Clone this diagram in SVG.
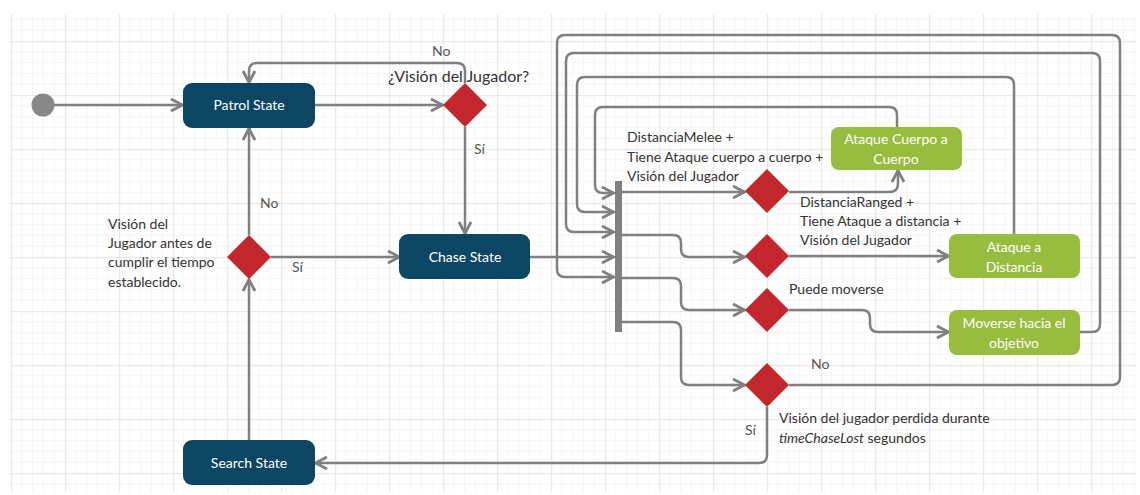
<svg xmlns="http://www.w3.org/2000/svg" width="1140" height="495" viewBox="0 0 1140 495">
<style>
text{font-family:Lato,"Liberation Sans",sans-serif;font-size:14px}
.st rect{fill:#0D4663}
.ac rect{fill:#97BC3E}
.st text,.ac text{fill:#FFFFFF;text-anchor:middle}
.dec polygon{fill:#C4262E}
.lbl{fill:#333333}
.yn{fill:#555555}
.conn path{fill:none;stroke:#808080;stroke-width:2.5;marker-end:url(#arr)}
</style>
<defs>
<pattern id="grid" patternUnits="userSpaceOnUse" x="11" y="41" width="54" height="54">
<path d="M10.8,0V54M21.6,0V54M32.4,0V54M43.2,0V54M0,10.8H54M0,21.6H54M0,32.4H54M0,43.2H54" stroke="#f5f5f5" stroke-width="1" fill="none"/>
<path d="M0.5,0V54M0,0.5H54" stroke="#e9e9e9" stroke-width="1.5" fill="none"/>
</pattern>
<marker id="arr" markerUnits="userSpaceOnUse" markerWidth="20" markerHeight="20" viewBox="-2 -2 20 20" refX="14" refY="7" orient="auto">
<path d="M2,1 L13.5,7 L2,13" fill="none" stroke="#808080" stroke-width="2.8" stroke-linejoin="miter"/>
</marker>
</defs>
<rect width="1140" height="495" fill="#ffffff"/>
<rect x="10" y="14" width="1126" height="478" fill="url(#grid)"/>

<g id="connectors" class="conn">
<path d="M54,105 H183"/>
<path d="M315,105 H443"/>
<path d="M465,83 V71 Q465,63 457,63 H257 Q249,63 249,71 V83"/>
<path d="M465,127 V234"/>
<path d="M249,235 V128"/>
<path d="M271,257 H400"/>
<path d="M249,440 V279"/>
<path d="M767,407 V455 Q767,463 759,463 H315"/>
<path d="M530,257 H614"/>
<path d="M622,192 H745"/>
<path d="M622,235 H673 Q681,235 681,243 V249 Q681,257 689,257 H745"/>
<path d="M622,278 H673 Q681,278 681,286 V302 Q681,310 689,310 H745"/>
<path d="M622,322 H673 Q681,322 681,330 V377 Q681,385 689,385 H745"/>
<path d="M789,192 H889 Q898,192 898,184 V170"/>
<path d="M789,256 H949"/>
<path d="M789,310 H862 Q870,310 870,318 V324 Q870,332 878,332 H949"/>
<path d="M897,127 V115 Q897,107 889,107 H603 Q595,107 595,115 V185 Q595,193 603,193 H614"/>
<path d="M1014,234 V85 Q1014,77 1006,77 H585 Q577,77 577,85 V204 Q577,212 585,212 H614"/>
<path d="M1080,332 H1092 Q1100,332 1100,324 V61 Q1100,53 1092,53 H574 Q566,53 566,61 V224 Q566,232 574,232 H614"/>
<path d="M789,385 H1112 Q1120,385 1120,377 V43 Q1120,35 1112,35 H565 Q557,35 557,43 V269 Q557,277 565,277 H614"/>
</g>

<g id="start"><circle cx="43" cy="105" r="11.5" fill="#888888"/></g>

<g id="patrol" class="st"><rect x="183" y="83" width="132" height="45" rx="9"/><text x="249" y="110">Patrol State</text></g>
<g id="chase" class="st"><rect x="399" y="234" width="131" height="45" rx="9"/><text x="465" y="262">Chase State</text></g>
<g id="search" class="st"><rect x="183" y="440" width="132" height="45" rx="9"/><text x="249" y="468">Search State</text></g>

<g id="d1" class="dec"><polygon points="465,83 487,105 465,127 443,105"/>
<text x="388" y="82" class="lbl" style="font-size:16px">¿Visión del Jugador?</text></g>
<g id="d2" class="dec"><polygon points="249,235 271,257 249,279 227,257"/></g>
<g id="d3" class="dec"><polygon points="767,169 789,191 767,213 745,191"/></g>
<g id="d4" class="dec"><polygon points="767,234 789,256 767,278 745,256"/></g>
<g id="d5" class="dec"><polygon points="767,288 789,310 767,332 745,310"/></g>
<g id="d6" class="dec"><polygon points="767,363 789,385 767,407 745,385"/></g>

<g id="bar"><rect x="615" y="181" width="7" height="151" fill="#808080"/></g>

<g id="cuerpo" class="ac"><rect x="831" y="127" width="131" height="43" rx="8"/><text x="896" y="144">Ataque Cuerpo a</text><text x="896" y="164">Cuerpo</text></g>
<g id="distancia" class="ac"><rect x="949" y="234" width="131" height="44" rx="8"/><text x="1014" y="252">Ataque a</text><text x="1014" y="272">Distancia</text></g>
<g id="moverse" class="ac"><rect x="949" y="310" width="131" height="45" rx="8"/><text x="1014" y="328">Moverse hacia el</text><text x="1014" y="348">objetivo</text></g>

<g id="labels">
<text x="432" y="56" class="yn">No</text>
<text x="474" y="154" class="yn">Sí</text>
<text x="260" y="208" class="yn">No</text>
<text x="292" y="272" class="yn">Sí</text>
<text class="lbl"><tspan x="108" y="229">Visión del</tspan><tspan x="108" y="248">Jugador antes de</tspan><tspan x="108" y="267">cumplir el tiempo</tspan><tspan x="108" y="287">establecido.</tspan></text>
<text class="lbl"><tspan x="627" y="142">DistanciaMelee +</tspan><tspan x="627" y="161.5">Tiene Ataque cuerpo a cuerpo +</tspan><tspan x="627" y="181">Visión del Jugador</tspan></text>
<text class="lbl"><tspan x="800" y="207">DistanciaRanged +</tspan><tspan x="800" y="226">Tiene Ataque a distancia +</tspan><tspan x="800" y="245">Visión del Jugador</tspan></text>
<text x="789" y="294" class="lbl">Puede moverse</text>
<text x="811" y="369" class="yn">No</text>
<text x="745" y="435" class="yn">Sí</text>
<text class="lbl"><tspan x="779" y="423">Visión del jugador perdida durante</tspan><tspan x="779" y="443"><tspan font-style="italic">timeChaseLost</tspan> segundos</tspan></text>
</g>
</svg>
